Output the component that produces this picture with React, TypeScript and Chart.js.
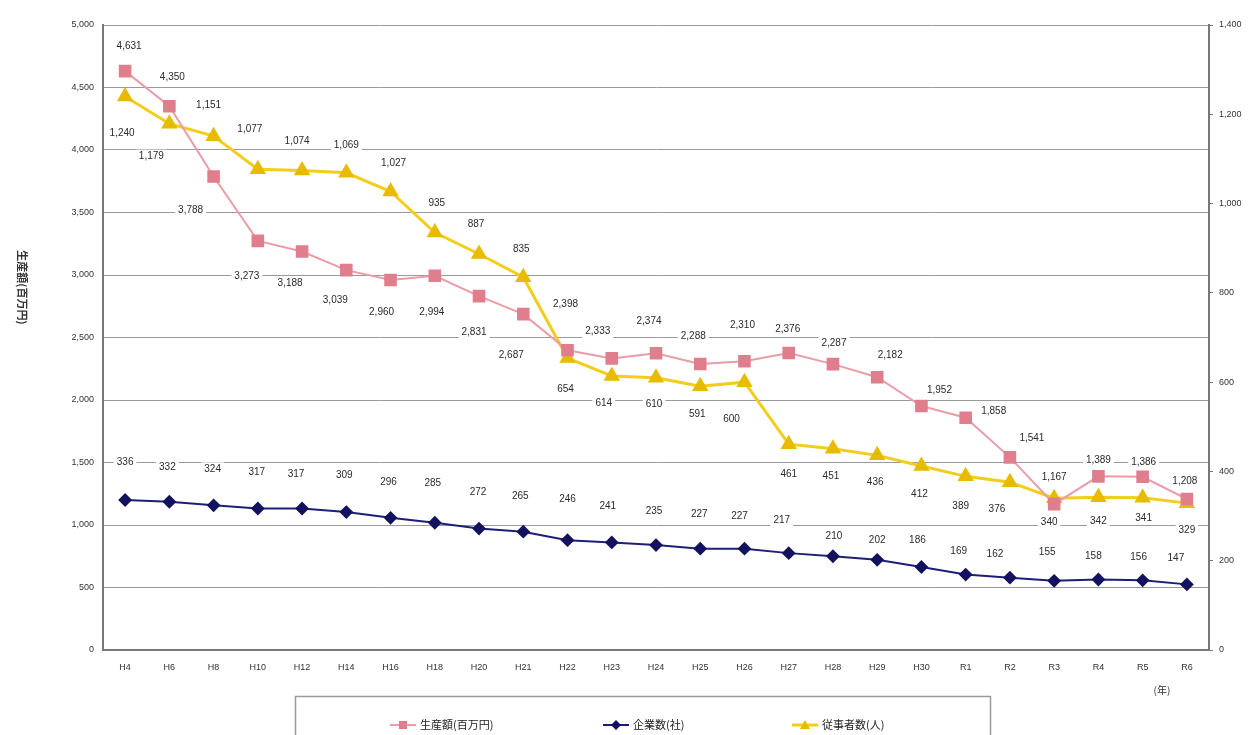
import React, { useEffect, useRef } from "react";
import { Chart, registerables } from "chart.js";

Chart.register(...registerables);

const categories = ["H4","H6","H8","H10","H12","H14","H16","H18","H20","H21","H22","H23","H24","H25","H26","H27","H28","H29","H30","R1","R2","R3","R4","R5","R6"];
// 生産額(百万円)
const productionValues = [4631,4350,3788,3273,3188,3039,2960,2994,2831,2687,2398,2333,2374,2288,2310,2376,2287,2182,1952,1858,1541,1167,1389,1386,1208];
// 企業数(社)
const companyValues = [336,332,324,317,317,309,296,285,272,265,246,241,235,227,227,217,210,202,186,169,162,155,158,156,147];
// 従事者数(人)
const workerValues = [1240,1179,1151,1077,1074,1069,1027,935,887,835,654,614,610,591,600,461,451,436,412,389,376,340,342,341,329];

const seriesNames = ["生産額(百万円)", "企業数(社)", "従事者数(人)"];
const leftAxisTitle = "生産額(百万円)";
const xUnit = "(年)";

// data label offsets (label placement, px) relative to each point
const productionLabelOffsets = [[4,-25],[3,-29],[-23,34],[-11,35],[-12,32],[-11,30],[-9,32],[-3,36],[-5,36],[-12,41],[-2,-46],[-14,-27],[-7,-32],[-7,-28],[-2,-36],[-1,-24],[1,-21],[13,-22],[18,-16],[28,-7],[22,-19],[0,-27],[0,-16],[1,-15],[-2,-18]];
const companyLabelOffsets = [[0,-38],[-2,-35],[-1,-36],[-1,-36],[-6,-34],[-2,-37],[-2,-36],[-2,-40],[-1,-36],[-3,-35],[0,-41],[-4,-36],[-2,-34],[-1,-34],[-5,-32],[-7,-33],[1,-20],[0,-20],[-4,-27],[-7,-23],[-15,-23],[-7,-29],[-5,-23],[-4,-23],[-11,-26]];
const workerLabelOffsets = [[-3,37],[-18,33],[-5,-31],[-8,-40],[-5,-29],[0,-28],[3,-28],[2,-29],[-3,-30],[-2,-28],[-2,31],[-8,27],[-2,27],[-3,28],[-13,37],[0,30],[-2,28],[-2,27],[-2,28],[-5,30],[-13,27],[-5,24],[0,24],[1,20],[0,27]];

const PINK_LINE = "#eb9ca7";
const PINK_PT = "#e07e8e";
const NAVY_LINE = "#1e1e78";
const NAVY_PT = "#12125e";
const YEL_LINE = "#f3cd1c";
const YEL_PT = "#e6bb00";

const fmt = (n: number) => n.toLocaleString("en-US");
const LABEL_FONT = "10px 'Liberation Sans', Arial, sans-serif";
const offsetsByDataset = [productionLabelOffsets, companyLabelOffsets, workerLabelOffsets];

function labelBoxes(chart: any) {
  const out: any[] = [];
  const ctx = chart.ctx;
  ctx.save();
  ctx.font = LABEL_FONT;
  chart.data.datasets.forEach((ds: any, di: number) => {
    const meta = chart.getDatasetMeta(di);
    meta.data.forEach((pt: any, i: number) => {
      const off = offsetsByDataset[di][i];
      const text = fmt(ds.data[i]);
      const w = ctx.measureText(text).width;
      out.push({ x: pt.x + off[0], y: pt.y + off[1], text, w });
    });
  });
  ctx.restore();
  return out;
}

const labelPlugin = {
  id: "valueLabels",
  beforeDatasetsDraw(chart: any) {
    const ctx = chart.ctx;
    ctx.save();
    ctx.fillStyle = "#ffffff";
    labelBoxes(chart).forEach((b) => {
      ctx.fillRect(b.x - b.w / 2 - 3, b.y - 7, b.w + 6, 14);
    });
    ctx.restore();
  },
  afterDatasetsDraw(chart: any) {
    const ctx = chart.ctx;
    ctx.save();
    ctx.font = LABEL_FONT;
    ctx.fillStyle = "#2a2a2a";
    ctx.textAlign = "center";
    ctx.textBaseline = "middle";
    labelBoxes(chart).forEach((b) => ctx.fillText(b.text, b.x, b.y));
    ctx.restore();
  },
  afterDraw(chart: any) {
    const ctx = chart.ctx;
    const area = chart.chartArea;
    ctx.save();
    // left axis title, reading top to bottom
    ctx.translate(22, (area.top + area.bottom) / 2 - 50);
    ctx.rotate(Math.PI / 2);
    ctx.font = "bold 11px 'Noto Sans CJK JP', sans-serif";
    ctx.fillStyle = "#333";
    ctx.textAlign = "center";
    ctx.textBaseline = "middle";
    ctx.fillText(leftAxisTitle, 0, 0);
    ctx.restore();

    ctx.save();
    ctx.font = "10px 'Noto Sans CJK JP', sans-serif";
    ctx.fillStyle = "#333";
    ctx.textAlign = "center";
    ctx.textBaseline = "middle";
    ctx.fillText(xUnit, area.right - 47, area.bottom + 40);
    ctx.restore();

    // legend box
    ctx.save();
    ctx.strokeStyle = "#9a9a9a";
    ctx.lineWidth = 1.5;
    ctx.strokeRect(295.5, 696.5, 695, 60);
    const items = [
      { x: 390, ds: 0 },
      { x: 603, ds: 1 },
      { x: 792, ds: 2 },
    ];
    const y = 725;
    items.forEach((it) => {
      const ds = chart.data.datasets[it.ds];
      ctx.strokeStyle = ds.borderColor;
      ctx.lineWidth = ds.borderWidth;
      ctx.beginPath();
      ctx.moveTo(it.x, y);
      ctx.lineTo(it.x + 26, y);
      ctx.stroke();
      ctx.fillStyle = ds.pointBackgroundColor;
      const cx = it.x + 13;
      ctx.beginPath();
      if (ds.pointStyle === "rect") {
        ctx.rect(cx - 4, y - 4, 8, 8);
      } else if (ds.pointStyle === "rectRot") {
        ctx.moveTo(cx, y - 5); ctx.lineTo(cx + 5, y); ctx.lineTo(cx, y + 5); ctx.lineTo(cx - 5, y); ctx.closePath();
      } else {
        ctx.moveTo(cx, y - 5); ctx.lineTo(cx + 5, y + 4); ctx.lineTo(cx - 5, y + 4); ctx.closePath();
      }
      ctx.fill();
      ctx.fillStyle = "#222";
      ctx.font = "11px 'Noto Sans CJK JP', sans-serif";
      ctx.textAlign = "left";
      ctx.textBaseline = "middle";
      ctx.fillText(seriesNames[it.ds], it.x + 30, y);
    });
    ctx.restore();
  },
};

export default function App() {
  const canvasRef = useRef<HTMLCanvasElement | null>(null);

  useEffect(() => {
    const canvas = canvasRef.current;
    if (!canvas) return;
    const tickFont = { size: 9, family: "'Liberation Sans', Arial, sans-serif" };
    const chart = new Chart(canvas, {
      type: "line",
      data: {
        labels: categories,
        datasets: [
          {
            label: seriesNames[0],
            data: productionValues,
            yAxisID: "y",
            borderColor: PINK_LINE,
            borderWidth: 2,
            pointStyle: "rect",
            pointRadius: 7.5,
            pointBackgroundColor: PINK_PT,
            pointBorderColor: PINK_PT,
            tension: 0,
          },
          {
            label: seriesNames[1],
            data: companyValues,
            yAxisID: "y1",
            borderColor: NAVY_LINE,
            borderWidth: 2,
            pointStyle: "rectRot",
            pointRadius: 5.5,
            pointBackgroundColor: NAVY_PT,
            pointBorderColor: NAVY_PT,
            tension: 0,
          },
          {
            label: seriesNames[2],
            data: workerValues,
            yAxisID: "y1",
            borderColor: YEL_LINE,
            borderWidth: 3,
            pointStyle: "triangle",
            pointRadius: 6.5,
            pointBackgroundColor: YEL_PT,
            pointBorderColor: YEL_PT,
            tension: 0,
          },
        ],
      },
      options: {
        responsive: false,
        animation: false,
        devicePixelRatio: 1,
        layout: { padding: { top: 25, left: 0, right: 0, bottom: 0 } },
        plugins: { legend: { display: false }, tooltip: { enabled: false }, title: { display: false } },
        scales: {
          x: {
            type: "category",
            offset: true,
            grid: { display: false },
            border: { color: "#777", width: 2 },
            ticks: { font: tickFont, color: "#333", padding: 4, maxRotation: 0, autoSkip: false },
            afterFit: (s: any) => { s.height = 85; },
          },
          y: {
            position: "left",
            min: 0,
            max: 5000,
            grid: { color: "#9a9a9a", lineWidth: 1, drawTicks: false },
            border: { color: "#777", width: 2 },
            ticks: { stepSize: 500, font: tickFont, color: "#333", padding: 9, callback: (v: any) => fmt(Number(v)) },
            afterFit: (s: any) => { s.width = 103; },
          },
          y1: {
            position: "right",
            min: 0,
            max: 1400,
            grid: { drawOnChartArea: false, color: "#777", tickLength: 4 },
            border: { color: "#777", width: 2 },
            ticks: { stepSize: 200, font: tickFont, color: "#333", padding: 6, callback: (v: any) => fmt(Number(v)) },
            afterFit: (s: any) => { s.width = 40; },
          },
        },
      },
      plugins: [labelPlugin],
    } as any);
    return () => chart.destroy();
  }, []);

  return (
    <div style={{ position: "absolute", left: 0, top: 0, width: 1249, height: 735, background: "#fff", overflow: "hidden" }}>
      <canvas ref={canvasRef} width={1249} height={735} style={{ display: "block" }} />
    </div>
  );
}
